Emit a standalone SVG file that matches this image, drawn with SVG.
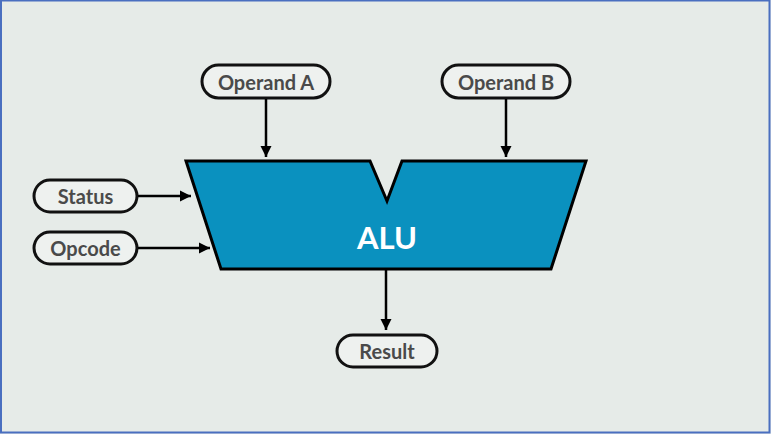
<svg xmlns="http://www.w3.org/2000/svg" width="771" height="434" viewBox="0 0 771 434">
<defs>
<marker id="ah" markerWidth="12" markerHeight="12" refX="11" refY="6" orient="auto" markerUnits="userSpaceOnUse">
<path d="M0,0.5 L11,6 L0,11.5 z" fill="#000"/>
</marker>
<style>
.pill{fill:#eef1ef;stroke:#111;stroke-width:3}
.lbl{font-family:Lato,"Open Sans",sans-serif;font-weight:bold;font-size:20px;fill:#4a4a4a;text-anchor:middle;dominant-baseline:central}
.conn{stroke:#000;stroke-width:2.5;fill:none;marker-end:url(#ah)}
</style>
</defs>
<rect x="0" y="0" width="771" height="434" fill="#e6ebe8"/>
<rect x="1" y="0.5" width="768.5" height="432" fill="none" stroke="#4a6fc0" stroke-width="2"/>
<g id="alu">
<polygon points="186,161 370,161 387,201 402,161 586,161 551,269 221,269" fill="#0a91bf" stroke="#000" stroke-width="3" stroke-linejoin="miter"/>
<text x="387" y="237" font-family="Lato,'Open Sans',sans-serif" font-weight="bold" font-size="31" fill="#ffffff" text-anchor="middle" dominant-baseline="central">ALU</text>
</g>
<g id="operandA">
<rect class="pill" x="202" y="65" width="128" height="33" rx="16.5"/>
<text class="lbl" x="266" y="81.5">Operand A</text>
</g>
<g id="operandB">
<rect class="pill" x="442" y="65" width="128" height="33" rx="16.5"/>
<text class="lbl" x="506" y="81.5">Operand B</text>
</g>
<g id="status">
<rect class="pill" x="34" y="180" width="103" height="32" rx="16"/>
<text class="lbl" x="85.5" y="196">Status</text>
</g>
<g id="opcode">
<rect class="pill" x="34" y="232" width="103" height="32" rx="16"/>
<text class="lbl" x="85.5" y="248">Opcode</text>
</g>
<g id="result">
<rect class="pill" x="337" y="335" width="100" height="32" rx="16"/>
<text class="lbl" x="387" y="351">Result</text>
</g>
<g id="connectors">
<line class="conn" x1="266" y1="99" x2="266" y2="157"/>
<line class="conn" x1="506" y1="99" x2="506" y2="157"/>
<line class="conn" x1="138" y1="196" x2="191" y2="196"/>
<line class="conn" x1="138" y1="248" x2="210" y2="248"/>
<line class="conn" x1="386" y1="270" x2="386" y2="330"/>
</g>
</svg>
